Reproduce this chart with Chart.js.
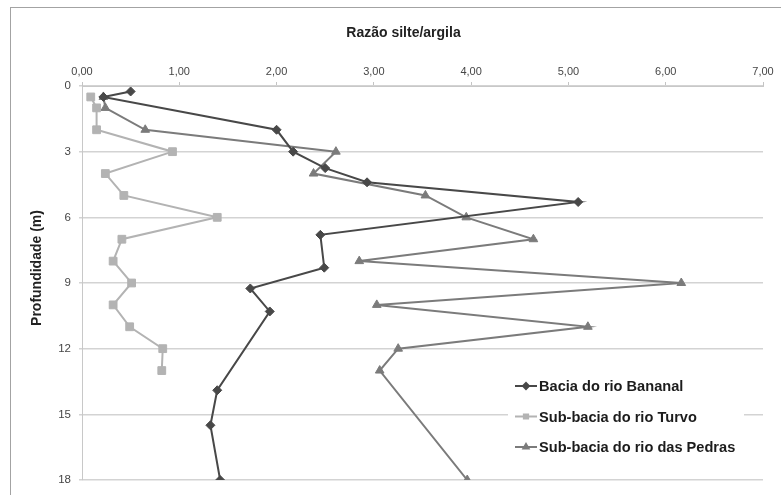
<!DOCTYPE html>
<html lang="pt">
<head>
<meta charset="utf-8">
<title>Razão silte/argila por profundidade</title>
<script src="https://cdn.jsdelivr.net/npm/chart.js@4/dist/chart.umd.min.js"></script>
<style>
  html, body { margin: 0; padding: 0; background: #ffffff; }
  #wrap { position: relative; width: 781px; height: 495px; overflow: hidden; }
  #frame { position: absolute; left: 10px; top: 7px; width: 800px; height: 520px;
           border-left: 1px solid #a3a3a3; border-top: 1px solid #a3a3a3; box-sizing: border-box; }
  canvas { position: absolute; left: 0; top: 0; }
</style>
</head>
<body>
<div id="wrap">
  <div id="frame"></div>
  <canvas id="chart" width="781" height="495"></canvas>
</div>
<script>
// Silt/clay ratio profiles (x) against depth in metres (y)
const seriesNames = ['Bacia do rio Bananal', 'Sub-bacia do rio Turvo', 'Sub-bacia do rio das Pedras'];

const depthBananal = [0.25, 0.5, 2, 3, 3.75, 4.4, 5.3, 6.8, 8.3, 9.25, 10.3, 13.9, 15.5, 18];
const ratioBananal = [0.50, 0.22, 2.00, 2.17, 2.50, 2.93, 5.10, 2.45, 2.49, 1.73, 1.93, 1.39, 1.32, 1.42];

const depthTurvo = [0.5, 1, 2, 3, 4, 5, 6, 7, 8, 9, 10, 11, 12, 13];
const ratioTurvo = [0.09, 0.15, 0.15, 0.93, 0.24, 0.43, 1.39, 0.41, 0.32, 0.51, 0.32, 0.49, 0.83, 0.82];

const depthPedras = [0.5, 1, 2, 3, 4, 5, 6, 7, 8, 9, 10, 11, 12, 13, 18];
const ratioPedras = [0.22, 0.24, 0.65, 2.61, 2.38, 3.53, 3.95, 4.64, 2.85, 6.16, 3.03, 5.20, 3.25, 3.06, 3.96];

const ratioTicks = [0, 1, 2, 3, 4, 5, 6, 7];
const depthTicks = [0, 3, 6, 9, 12, 15, 18];

const xTitle = 'Razão silte/argila';
const yTitle = 'Profundidade (m)';

const FONT = "'Liberation Sans', Arial, sans-serif";

function pairs(xs, ys) {
  return xs.map((x, i) => ({ x: x, y: ys[i] }));
}

const styles = [
  { color: '#484848', point: 'rectRot', radius: 4.5 },
  { color: '#b3b3b3', point: 'rect', radius: 5.5 },
  { color: '#7b7b7b', point: 'triangle', radius: 5 }
];

const datasets = [
  pairs(ratioBananal, depthBananal),
  pairs(ratioTurvo, depthTurvo),
  pairs(ratioPedras, depthPedras)
].map((data, i) => ({
  label: seriesNames[i],
  data: data,
  showLine: true,
  borderColor: styles[i].color,
  backgroundColor: styles[i].color,
  borderWidth: 2,
  pointStyle: styles[i].point,
  pointRadius: styles[i].radius,
  pointBackgroundColor: styles[i].color,
  pointBorderColor: styles[i].color,
  pointBorderWidth: 1,
  tension: 0
}));

// Axis titles and the in-plot legend
const textsPlugin = {
  id: 'chartTexts',
  afterDraw(chart) {
    const ctx = chart.ctx;
    const area = chart.chartArea;
    ctx.save();
    ctx.fillStyle = '#222222';
    ctx.font = 'bold 14px ' + FONT;
    ctx.textAlign = 'center';
    ctx.textBaseline = 'middle';
    ctx.fillText(xTitle, (area.left + area.right) / 2 - 19, 33);

    ctx.save();
    ctx.translate(37, (area.top + area.bottom) / 2 - 15);
    ctx.rotate(-Math.PI / 2);
    ctx.fillText(yTitle, 0, 0);
    ctx.restore();

    // legend box inside the plot, bottom right
    const boxLeft = area.right - 255;
    const boxTop = area.bottom - 113;
    ctx.fillStyle = '#ffffff';
    ctx.fillRect(boxLeft, boxTop, 236, 96);

    const rowGap = 30.5;
    ctx.font = 'bold 14.6px ' + FONT;
    ctx.textAlign = 'left';
    chart.data.datasets.forEach((ds, i) => {
      const cy = boxTop + 19 + i * rowGap;
      const sx = boxLeft + 7;
      ctx.strokeStyle = ds.borderColor;
      ctx.lineWidth = 2;
      ctx.beginPath();
      ctx.moveTo(sx, cy);
      ctx.lineTo(sx + 22, cy);
      ctx.stroke();
      ctx.fillStyle = ds.borderColor;
      Chart.helpers.drawPoint(ctx, { pointStyle: ds.pointStyle, radius: 3, borderWidth: 1, rotation: 0 }, sx + 11, cy);
      ctx.fillStyle = '#1c1c1c';
      ctx.fillText(ds.label, sx + 24, cy + 1);
    });
    ctx.restore();
  }
};

new Chart(document.getElementById('chart'), {
  type: 'scatter',
  data: { datasets: datasets },
  plugins: [textsPlugin],
  options: {
    responsive: false,
    animation: false,
    devicePixelRatio: 1,
    layout: { padding: { top: 0, right: 18, bottom: 15, left: 0 } },
    plugins: {
      legend: { display: false },
      tooltip: { enabled: false }
    },
    scales: {
      x: {
        type: 'linear',
        position: 'top',
        min: 0,
        max: 7,
        afterBuildTicks(scale) { scale.ticks = ratioTicks.map(v => ({ value: v })); },
        afterFit(scale) { scale.height = 86; scale.paddingLeft = 0; scale.paddingRight = 0; },
        ticks: {
          color: '#464646',
          font: { family: FONT, size: 11 },
          padding: 3,
          callback: v => v.toFixed(2).replace('.', ',')
        },
        grid: { drawOnChartArea: false, drawTicks: true, tickLength: 4, color: '#c4c4c4' },
        border: { display: true, color: '#c8c8c8', width: 1 }
      },
      y: {
        type: 'linear',
        reverse: true,
        min: 0,
        max: 18,
        afterBuildTicks(scale) { scale.ticks = depthTicks.map(v => ({ value: v })); },
        afterFit(scale) { scale.width = 82; scale.paddingTop = 0; scale.paddingBottom = 0; },
        ticks: {
          color: '#464646',
          font: { family: FONT, size: 11.5 },
          padding: 8
        },
        grid: { color: '#d3d3d3', lineWidth: 1.5, tickLength: 3 },
        border: { display: true, color: '#c8c8c8', width: 1 }
      }
    }
  }
});
</script>
</body>
</html>
